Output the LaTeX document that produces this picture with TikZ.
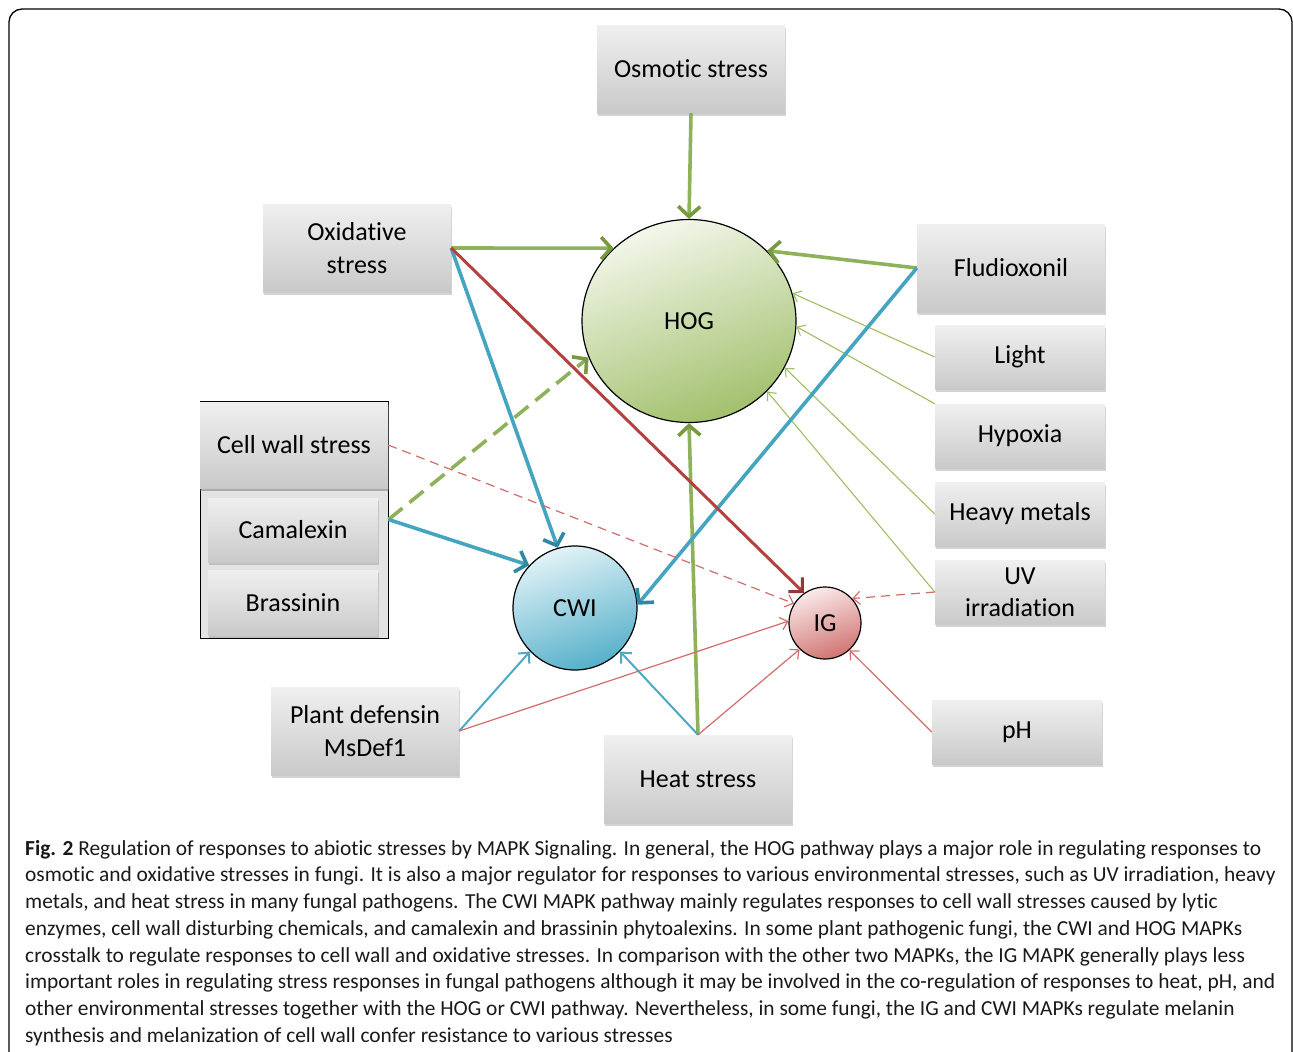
\documentclass[tikz,border=0pt]{standalone}
\usepackage{fontspec}
\setmainfont{Carlito}[Ligatures=NoCommon]
\usepackage{tikz}
\usetikzlibrary{calc,arrows.meta,shapes.geometric,positioning,shadows}

\definecolor{hoglight}{HTML}{F3F7EB}
\definecolor{hogdark}{HTML}{A2C06C}
\definecolor{cwilight}{HTML}{E2F2F7}
\definecolor{cwidark}{HTML}{55B0CA}
\definecolor{iglight}{HTML}{FAEAEA}
\definecolor{igdark}{HTML}{D07471}
\definecolor{gthick}{HTML}{8DB25A}
\definecolor{ghead}{HTML}{789940}
\definecolor{gthin}{HTML}{9EBE64}
\definecolor{bthick}{HTML}{45A5C0}
\definecolor{bhead}{HTML}{2F89A3}
\definecolor{bthin}{HTML}{4DA9C3}
\definecolor{rthick}{HTML}{B3423F}
\definecolor{rhead}{HTML}{963836}
\definecolor{rthin}{HTML}{D26C69}

\tikzset{
  stressbox/.style={rectangle, inner sep=0pt, align=center,
    top color=gray!12, bottom color=gray!42,
    drop shadow={shadow xshift=1pt, shadow yshift=-2.5pt, opacity=0.35},
    minimum width=188pt, minimum height=88pt,
    font=\fontsize{26}{32.5}\selectfont},
  smallbox/.style={stressbox, minimum width=170pt, minimum height=64pt},
  mapk/.style={font=\fontsize{26}{30}\selectfont, draw=black, line width=1.2pt, inner sep=0pt},
  greenthick/.style={color=gthick, line width=3.6pt, -{Straight Barb[length=10pt,width=22pt,color=ghead]}},
  greenthin/.style={color=gthin, line width=1.1pt, -{Straight Barb[length=7pt,width=12pt]}},
  bluethick/.style={color=bthick, line width=3.6pt, -{Straight Barb[length=10pt,width=22pt,color=bhead]}},
  bluethin/.style={color=bthin, line width=2pt, -{Straight Barb[length=8pt,width=15pt]}},
  redthick/.style={color=rthick, line width=3pt, -{Straight Barb[length=10pt,width=20pt,color=rhead]}},
  redthin/.style={color=rthin, line width=1.2pt, -{Straight Barb[length=7pt,width=13pt]}}
}

\begin{document}
\begin{tikzpicture}[x=1pt, y=-1pt]
  \useasboundingbox (0,0) rectangle (1293,1052);
  \begin{scope}
    \clip (0,0) rectangle (1293,1052);
    \draw[line width=1.3pt, rounded corners=13pt] (9,9) rectangle (1292,1090);
  \end{scope}

  % stress boxes
  \node[stressbox] (osm) at (691,69) {Osmotic stress};
  \node[stressbox] (oxi) at (357,248) {Oxidative\\stress};
  \node[stressbox] (flu) at (1011,268) {Fludioxonil};
  \node[smallbox] (light) at (1020,357) {Light};
  \node[smallbox] (hyp) at (1020,436) {Hypoxia};
  \node[smallbox] (heavy) at (1020,514) {Heavy metals};
  \node[smallbox] (uv) at (1020,592) {UV\\irradiation};
  \node[smallbox] (ph) at (1017,732) {pH};
  \node[stressbox] (heat) at (698,779) {Heat stress};
  \node[stressbox] (pd) at (365,731) {Plant defensin\\MsDef1};

  % cell wall group
  \node[draw=black, line width=1pt, fill=gray!22, minimum width=188pt, minimum height=237pt, inner sep=0pt] (cwgroup) at (294,519.5) {};
  \node[stressbox, minimum height=86pt, drop shadow={shadow xshift=0pt, shadow yshift=-2.5pt, opacity=0.35}] (cws) at (294,445) {Cell wall stress};
  \node[smallbox] (cam) at (293,530) {Camalexin};
  \node[smallbox, minimum height=65pt] (bras) at (293,603) {Brassinin};

  % MAPK pathways
  \node[mapk, ellipse, minimum width=214pt, minimum height=203pt, top color=hoglight, bottom color=hogdark, shading angle=20] (hog) at (689,321) {HOG};
  \node[mapk, circle, minimum size=124pt, top color=cwilight, bottom color=cwidark, shading angle=20] (cwi) at (575,608) {CWI};
  \node[mapk, circle, minimum size=72pt, top color=iglight, bottom color=igdark, shading angle=20] (ig) at (825,623) {IG};

  % HOG inputs
  \path[greenthick]
    (osm.south) edge (hog.north)
    (oxi.east) edge (hog.136)
    (flu.west) edge (hog.42)
    (heat.north) edge (hog.south);
  \path[greenthick, dash pattern=on 18pt off 9pt]
    (cwgroup.east) edge (hog.200);
  \path[greenthin]
    (light.west) edge (hog.15)
    (hyp.north west) edge (hog.-3)
    (heavy.west) edge (hog.-26)
    (uv.west) edge (hog.-42);

  % CWI inputs
  \path[bluethick]
    (oxi.east) edge (cwi.106)
    (cwgroup.east) edge (cwi.137)
    (flu.west) edge (cwi.3);
  \path[bluethin]
    (pd.east) edge (cwi.224)
    (heat.north) edge (cwi.-44);

  % IG inputs
  \path[redthick]
    (oxi.east) edge (ig.125);
  \path[redthin, dash pattern=on 9pt off 6pt]
    (cws.east) edge (ig.148)
    (uv.west) edge (ig.42);
  \path[redthin]
    (pd.east) edge (ig.177)
    (heat.north) edge (ig.226)
    (ph.west) edge (ig.-48);

  % caption
  \node[anchor=north west, align=left, inner sep=0pt, text=black!90, font=\fontsize{21.4}{26.7}\selectfont] (caption) at (25,840) {%
    \textbf{Fig. 2} Regulation of responses to abiotic stresses by MAPK Signaling. In general, the HOG pathway plays a major role in regulating responses to\\
    osmotic and oxidative stresses in fungi. It is also a major regulator for responses to various environmental stresses, such as UV irradiation, heavy\\
    metals, and heat stress in many fungal pathogens. The CWI MAPK pathway mainly regulates responses to cell wall stresses caused by lytic\\
    enzymes, cell wall disturbing chemicals, and camalexin and brassinin phytoalexins. In some plant pathogenic fungi, the CWI and HOG MAPKs\\
    crosstalk to regulate responses to cell wall and oxidative stresses. In comparison with the other two MAPKs, the IG MAPK generally plays less\\
    important roles in regulating stress responses in fungal pathogens although it may be involved in the co-regulation of responses to heat, pH, and\\
    other environmental stresses together with the HOG or CWI pathway. Nevertheless, in some fungi, the IG and CWI MAPKs regulate melanin\\
    synthesis and melanization of cell wall confer resistance to various stresses};
\end{tikzpicture}
\end{document}
